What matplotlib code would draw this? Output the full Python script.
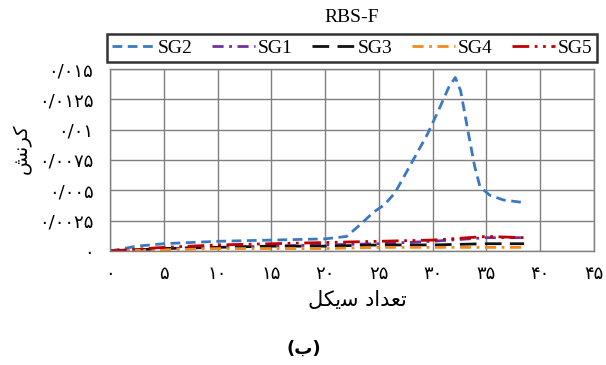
import matplotlib
matplotlib.use("Agg")
import matplotlib.pyplot as plt
import numpy as np

# data
sg2_x = [0, 2.5, 5, 7.5, 10, 12.5, 15, 17.5, 20, 22, 23.3, 24.5, 25.5, 26.5,
         28, 29.5, 30.6, 31.5, 32.1, 32.6, 33.3, 33.9, 34.4, 35.3, 36.6, 38.4]
sg2 = [0, 0.0004, 0.0006, 0.0007, 0.0008, 0.00085, 0.0009, 0.00095, 0.001,
       0.0012, 0.0022, 0.0032, 0.0038, 0.0048, 0.0072, 0.0096, 0.0117, 0.0135,
       0.0143, 0.0132, 0.0098, 0.007, 0.0053, 0.0046, 0.0042, 0.004]

cycles = [0, 5, 10, 15, 20, 25, 30, 35, 38.5]
sg1 = [0, 0.0002, 0.0003, 0.0004, 0.0005, 0.0006, 0.0008, 0.0011, 0.0011]
sg3 = [0, 0.0002, 0.0003, 0.0004, 0.0004, 0.0005, 0.0005, 0.0006, 0.0006]
sg4 = [0, 0.0001, 0.0002, 0.0002, 0.0002, 0.0003, 0.0003, 0.0003, 0.0003]
sg5 = [0, 0.0003, 0.0005, 0.0006, 0.0007, 0.0008, 0.0009, 0.0012, 0.0011]

x_ticks = [0, 5, 10, 15, 20, 25, 30, 35, 40, 45]
y_ticks = [0, 0.0025, 0.005, 0.0075, 0.01, 0.0125, 0.015]

# Persian text, written in visual order with presentation forms
title = "RBS-F"
ylabel = "\uFEB6\uFEE7\uFEAE\uFB90"                       # کرنش
xlabel = "\uFEDE\uFB91\uFBFE\uFEB3 \uFEA9\uFE8D\uFEAA\uFECC\uFE97"  # تعداد سیکل
caption = "(\uFE8F)"                                       # (ب)

FA_DIGITS = str.maketrans("0123456789.", "۰۱۲۳۴۵۶۷۸۹/")


def fa(v):
    return "{:g}".format(v).translate(FA_DIGITS)


fig = plt.figure(figsize=(6.06, 3.65), dpi=100)
ax = fig.add_axes([110 / 606, 1 - 251 / 365, 484 / 606, 182 / 365])

lw = 2
ax.plot(sg2_x, sg2, color="#3b78c4", lw=lw, dashes=(3.5, 2), label="SG2")
ax.plot(cycles, sg1, color="#7030a0", lw=lw, dashes=(4, 2, 1, 2), label="SG1")
ax.plot(cycles, sg3, color="#111111", lw=lw, dashes=(6, 3), label="SG3")
ax.plot(cycles, sg4, color="#f28a1e", lw=lw, dashes=(4, 2, 1, 2), label="SG4")
ax.plot(cycles, sg5, color="#c00000", lw=lw, dashes=(6, 2, 1, 2, 1, 2), label="SG5")

ax.set_xlim(0, 45)
ax.set_ylim(0, 0.015)
ax.set_xticks(x_ticks)
ax.set_yticks(y_ticks)
ax.set_xticklabels([fa(v) for v in x_ticks], family="DejaVu Sans", fontsize=13)
ax.set_yticklabels([fa(v) for v in y_ticks], family="DejaVu Sans", fontsize=13)
ax.tick_params(axis="y", length=0, pad=12)
ax.tick_params(axis="x", length=0, pad=10)
ax.grid(True, color="#7f7f7f", lw=1)
ax.set_axisbelow(True)
for s in ax.spines.values():
    s.set_color("#7f7f7f")
    s.set_linewidth(1)

leg = fig.legend(loc="center", bbox_to_anchor=(352 / 606, 1 - 48 / 365), ncol=5,
                 prop={"family": "Liberation Serif", "size": 14},
                 frameon=True, fancybox=False, handlelength=2.2,
                 handletextpad=0.15, columnspacing=1.0, borderpad=0.25)
leg.get_frame().set_edgecolor("black")
leg.get_frame().set_linewidth(1.8)

fig.text(352 / 606, 1 - 17 / 365, title, ha="center", va="center",
         family="Liberation Serif", fontsize=14)
fig.text(357 / 606, 1 - 300 / 365, xlabel, ha="center", va="center",
         family="DejaVu Sans", fontsize=15)
fig.text(22 / 606, 1 - 149 / 365, ylabel, ha="center", va="center",
         rotation=90, family="DejaVu Sans", fontsize=14)
fig.text(304 / 606, 1 - 349 / 365, caption, ha="center", va="center",
         family="DejaVu Sans", fontsize=13, weight="bold")

fig.savefig("out.png", dpi=100)
